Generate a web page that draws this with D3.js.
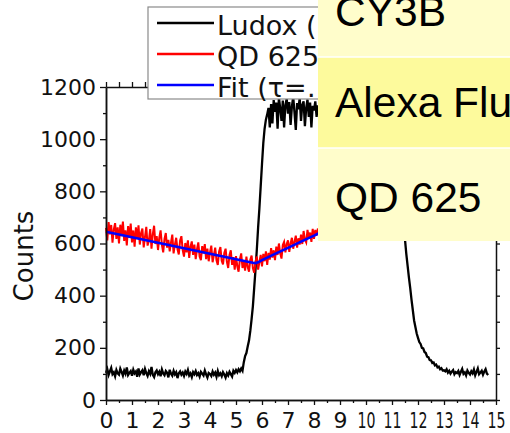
<!DOCTYPE html>
<html>
<head>
<meta charset="utf-8">
<script src="https://cdn.jsdelivr.net/npm/d3@7"></script>
<style>
  html, body { margin: 0; padding: 0; background: #fff; }
  svg { display: block; }
</style>
</head>
<body>
<svg id="chart" width="510" height="433"></svg>
<script>
// Time bins (ns) are regular; counts per bin are listed below.
const ludoxStep = 0.05;   // Ludox bins: 0.00 .. 14.70
const ludoxCounts = [
  104, 118, 96, 110, 123, 99, 106, 91, 115, 102,
  97, 120, 108, 94, 113, 101, 125, 96, 104, 111,
  93, 116, 102, 109, 89, 121, 98, 107, 114, 95,
  119, 103, 92, 110, 100, 127, 96, 88, 106, 113,
  99, 108, 91, 117, 102, 95, 111, 104, 87, 116,
  101, 93, 112, 98, 106, 84, 103, 110, 97, 105,
  92, 109, 100, 115, 94, 102, 88, 107, 99, 111,
  96, 103, 90, 108, 101, 94, 113, 98, 86, 104,
  100, 92, 109, 97, 105, 89, 111, 95, 102, 91,
  107, 98, 86, 103, 94, 108, 99, 90, 112, 104,
  115, 106, 118, 110, 121, 112, 145, 168, 180, 205,
  228, 265, 310, 360, 430, 500, 575, 660, 735, 820,
  905, 985, 1040, 1075, 1095, 1120, 1045, 1135, 1060, 1150,
  1105, 1140, 1040, 1160, 1118, 1070, 1148, 1045, 1130, 1155,
  1098, 1142, 1055, 1125, 1163, 1102, 1035, 1138, 1115, 1158,
  1070, 1132, 1145, 1050, 1120, 1152, 1085, 1140, 1045, 1128,
  1110, 1145, 1085, 1130, 1102, 1150, 1090, 1125, 1140, 1100,
  1132, 1095, 1148, 1115, 1088, 1138, 1120, 1105, 1145, 1092,
  1128, 1110, 1150, 1098, 1135, 1085, 1140, 1118, 1102, 1130,
  1095, 1142, 1112, 1125, 1090, 1138, 1105, 1148, 1120, 1100,
  1135, 1092, 1128, 1145, 1108, 1120, 1098, 1140, 1115, 1130,
  1102, 1138, 1090, 1125, 1148, 1110, 1095, 1132, 1118, 1105,
  1100, 1080, 1045, 990, 930, 860, 800, 740, 690, 650,
  615, 560, 515, 470, 430, 385, 345, 305, 280, 255,
  238, 222, 215, 200, 198, 184, 180, 166, 164, 153,
  152, 142, 144, 133, 136, 125, 128, 118, 122, 113,
  114, 110, 118, 105, 112, 101, 109, 115, 99, 107,
  103, 111, 96, 108, 119, 100, 106, 94, 113, 104,
  98, 110, 102, 117, 95, 108, 121, 99, 105, 112,
  97, 109, 118, 101, 96
];

const qdStep = 0.05;     // QD 625 bins: 0.00 .. 8.15
const qdCounts = [
  660, 612, 682, 635, 671, 603, 654, 678, 618, 662,
  600, 672, 628, 684, 610, 650, 593, 667, 622, 676,
  604, 650, 588, 662, 618, 670, 596, 640, 657, 585,
  625, 664, 592, 612, 655, 580, 636, 668, 598, 628,
  575, 622, 650, 595, 566, 618, 640, 584, 614, 570,
  604, 634, 562, 596, 622, 578, 558, 612, 628, 575,
  550, 602, 566, 612, 545, 588, 608, 556, 596, 540,
  578, 604, 550, 536, 590, 562, 598, 540, 580, 532,
  566, 592, 528, 556, 584, 536, 518, 570, 586, 534,
  520, 564, 580, 530, 506, 556, 574, 518, 548, 500,
  552, 512, 492, 540, 562, 506, 536, 496, 550, 510,
  492, 538, 554, 505, 488, 530, 550, 500, 528, 556,
  512, 560, 532, 570, 518, 564, 538, 582, 546, 574,
  536, 588, 556, 600, 562, 542, 594, 606, 566, 598,
  612, 568, 600, 622, 580, 608, 630, 584, 620, 596,
  634, 598, 648, 615, 604, 652, 622, 642, 606, 656,
  618, 652, 630, 658
];

// Fitted decay curve
const fitTimes  = [0, 1, 2, 3, 4, 5, 5.5, 5.65, 5.75, 5.85, 6, 6.5, 7, 7.5, 8, 8.3];
const fitCounts = [645, 624, 603, 582, 561, 540, 529, 526, 525, 528, 536, 560, 583, 607, 630, 645];

const legendLabels = ["Ludox (IRF)", "QD 625", "Fit (τ=…)"];
const legendColors = ["#000000", "#ff0000", "#0000ff"];

const tableRows = ["CY3B", "Alexa Fluor", "QD 625"];

const yMajor = [0, 200, 400, 600, 800, 1000, 1200];
const yMinor = [100, 300, 500, 700, 900, 1100];
const xMajor = d3.range(0, 16, 1);
const xHalf  = d3.range(0.5, 15, 1);

const svg = d3.select("#chart");
const x = d3.scaleLinear().domain([0, 15]).range([106, 496]);
const y = d3.scaleLinear().domain([0, 1200]).range([400, 87]);

const font = "'DejaVu Sans', sans-serif";

// --- data lines ---
const ludox = ludoxCounts.map((c, i) => [i * ludoxStep, c]);
const qd = qdCounts.map((c, i) => [i * qdStep, c]);
const fit = fitTimes.map((t, i) => [t, fitCounts[i]]);
const line = d3.line().x(d => x(d[0])).y(d => y(d[1]));

svg.append("path").datum(ludox).attr("d", line)
  .attr("fill", "none").attr("stroke", "#000").attr("stroke-width", 2.3);
svg.append("path").datum(qd).attr("d", line)
  .attr("fill", "none").attr("stroke", "#ff0000").attr("stroke-width", 2);
svg.append("path").datum(fit).attr("d", line)
  .attr("fill", "none").attr("stroke", "#0000ff").attr("stroke-width", 2.6);

// --- axes ---
function styleAxis(g) {
  g.selectAll(".domain").attr("stroke", "#111").attr("stroke-width", 1.5);
  g.selectAll(".tick line").attr("stroke", "#111").attr("stroke-width", 1.3);
  g.selectAll("text").attr("fill", "#111").style("font-family", font).style("font-size", "22px");
}

svg.append("g").attr("transform", "translate(106,0)")
  .call(d3.axisLeft(y).tickValues(yMajor).tickSize(6).tickPadding(4)
    .tickFormat(d3.format("d")).tickSizeOuter(0))
  .call(styleAxis);
svg.append("g").attr("transform", "translate(106,0)")
  .call(d3.axisLeft(y).tickValues(yMinor).tickSize(3).tickFormat("").tickSizeOuter(0))
  .call(styleAxis);

svg.append("g").attr("transform", "translate(496,0)")
  .call(d3.axisRight(y).tickValues(yMajor.concat(yMinor)).tickSize(4).tickFormat("").tickSizeOuter(0))
  .call(styleAxis);

svg.append("g").attr("transform", "translate(0,87)")
  .call(d3.axisTop(x).tickValues(xMajor.concat(xHalf)).tickSize(5).tickFormat("").tickSizeOuter(0))
  .call(styleAxis);

const xb = svg.append("g").attr("transform", "translate(0,400)")
  .call(d3.axisBottom(x).tickValues(xMajor).tickSize(5).tickFormat(d3.format("d")).tickSizeOuter(0))
  .call(styleAxis);
xb.selectAll("text").attr("y", 28).attr("dy", 0);
xb.selectAll(".tick text").filter(d => d >= 10)
  .attr("textLength", 18).attr("lengthAdjust", "spacingAndGlyphs");
svg.append("g").attr("transform", "translate(0,400)")
  .call(d3.axisBottom(x).tickValues(xHalf).tickSize(3).tickFormat("").tickSizeOuter(0))
  .call(styleAxis);

svg.append("text")
  .attr("transform", "translate(33,256) rotate(-90)")
  .attr("text-anchor", "middle")
  .style("font-family", font).style("font-size", "26px").attr("fill", "#111")
  .text("Counts");

// --- legend ---
const lg = svg.append("g");
lg.append("rect").attr("x", 148).attr("y", 7).attr("width", 300).attr("height", 92)
  .attr("fill", "#fff").attr("stroke", "#8a8a8a").attr("stroke-width", 1.2);
legendLabels.forEach((lab, i) => {
  const cy = 23 + i * 31;
  lg.append("line").attr("x1", 157).attr("x2", 214).attr("y1", cy).attr("y2", cy)
    .attr("stroke", legendColors[i]).attr("stroke-width", 2.4);
  lg.append("text").attr("x", 217).attr("y", cy + 12)
    .style("font-family", font).style("font-size", "27px").attr("fill", "#111")
    .text(lab);
});

// --- overlay table ---
const rowTops = [0, 57, 148];
const rowHeights = [57, 91, 93];
const rowFill = ["#fffdcb", "#fdfa9c", "#fffdcb"];
const rowBase = [26, 117, 212];
const tb = svg.append("g");
tableRows.forEach((r, i) => {
  tb.append("rect").attr("x", 318).attr("y", rowTops[i]).attr("width", 200).attr("height", rowHeights[i])
    .attr("fill", rowFill[i]);
  tb.append("text").attr("x", 335).attr("y", rowBase[i])
    .style("font-family", "'Liberation Sans', Arial, sans-serif").style("font-size", "42.5px")
    .attr("fill", "#000").text(r);
});
[57, 148].forEach(yy => {
  tb.append("line").attr("x1", 318).attr("x2", 510).attr("y1", yy).attr("y2", yy)
    .attr("stroke", "#fff").attr("stroke-width", 1.5);
});
</script>
</body>
</html>
